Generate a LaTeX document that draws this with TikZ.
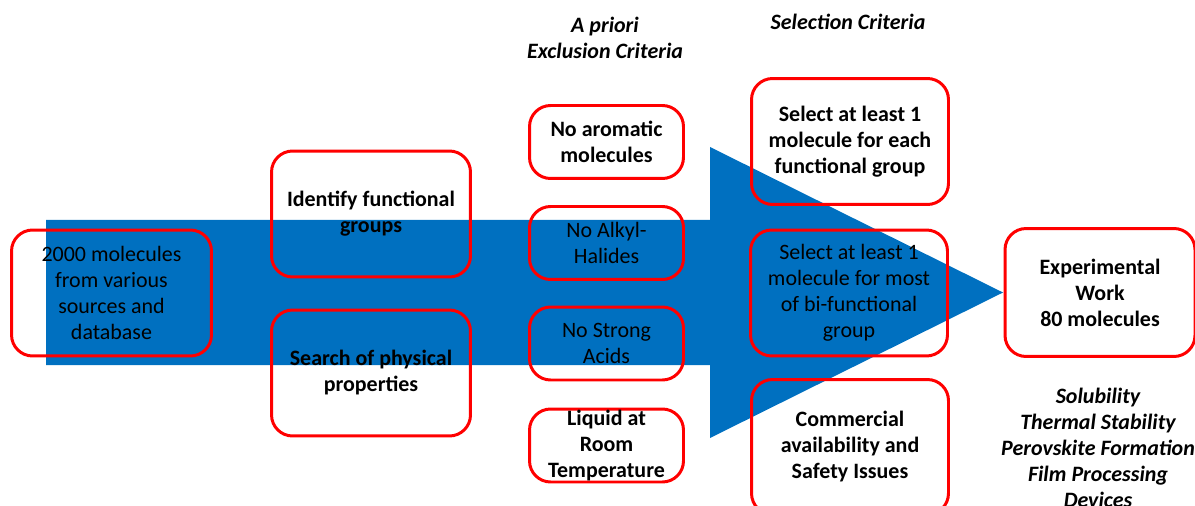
\documentclass[tikz,border=0pt]{standalone}
\usepackage{fontspec}
\setmainfont{Carlito}
\usetikzlibrary{positioning}

\definecolor{flowblue}{RGB}{0,112,192}
\definecolor{boxred}{RGB}{255,0,0}
\newcommand{\flowfont}{\fontsize{12.5}{14.8}\selectfont}

\begin{document}
\begin{tikzpicture}[x=0.02cm, y=-0.02cm,
  box/.style={draw=boxred, line width=1.7pt, rounded corners=12pt,
              align=center, inner sep=0pt, font=\flowfont\bfseries},
  bigbox/.style={box, minimum width=3.98cm, minimum height=2.52cm},
  critbox/.style={box, minimum width=3.08cm, minimum height=1.46cm},
  onblue/.style={font=\flowfont},
  head/.style={align=center, font=\flowfont\bfseries\itshape}
]
  \useasboundingbox (0,0) rectangle (1195,506);

  % big arrow behind everything
  \fill[flowblue] (46,220) -- (710,220) -- (710,147) -- (1003,292.5)
    -- (710,438) -- (710,365) -- (46,365) -- cycle;

  \node[bigbox, onblue, minimum width=4.0cm] (src) at (111.5,293)
    {2000 molecules\\from various\\sources and\\database};

  \node[bigbox] (ident)  at (371,214) {Identify functional\\groups};
  \node[bigbox] (search) at (371,373) {Search of physical\\properties};

  \node[critbox]         (arom)  at (606.5,142)   {No aromatic\\molecules};
  \node[critbox, onblue] (alkyl) at (606.5,243)   {No Alkyl-\\Halides};
  \node[critbox, onblue] (acid)  at (606.5,343.5) {No Strong\\Acids};
  \node[critbox]         (liq)   at (606.5,445.5) {Liquid at\\Room\\Temperature};

  \node[bigbox, minimum width=3.94cm] (each) at (850,141.5)
    {Select at least 1\\molecule for each\\functional group};
  \node[bigbox, onblue, minimum width=3.94cm] (most) at (849,293)
    {Select at least 1\\molecule for most\\of bi-functional\\group};
  \node[bigbox, minimum width=3.94cm, minimum height=2.7cm] (comm) at (850,447)
    {Commercial\\availability and\\Safety Issues};

  \node[bigbox, minimum width=3.8cm, minimum height=2.56cm] (exp) at (1100,292.5)
    {Experimental\\Work\\80 molecules};

  \node[head] (excl) at (605,37.5) {A priori\\Exclusion Criteria};
  \node[head] (sel)  at (848,22)   {Selection Criteria};
  \node[head] (tests) at (1098,448)
    {Solubility\\Thermal Stability\\Perovskite Formation\\Film Processing\\Devices};
\end{tikzpicture}
\end{document}
